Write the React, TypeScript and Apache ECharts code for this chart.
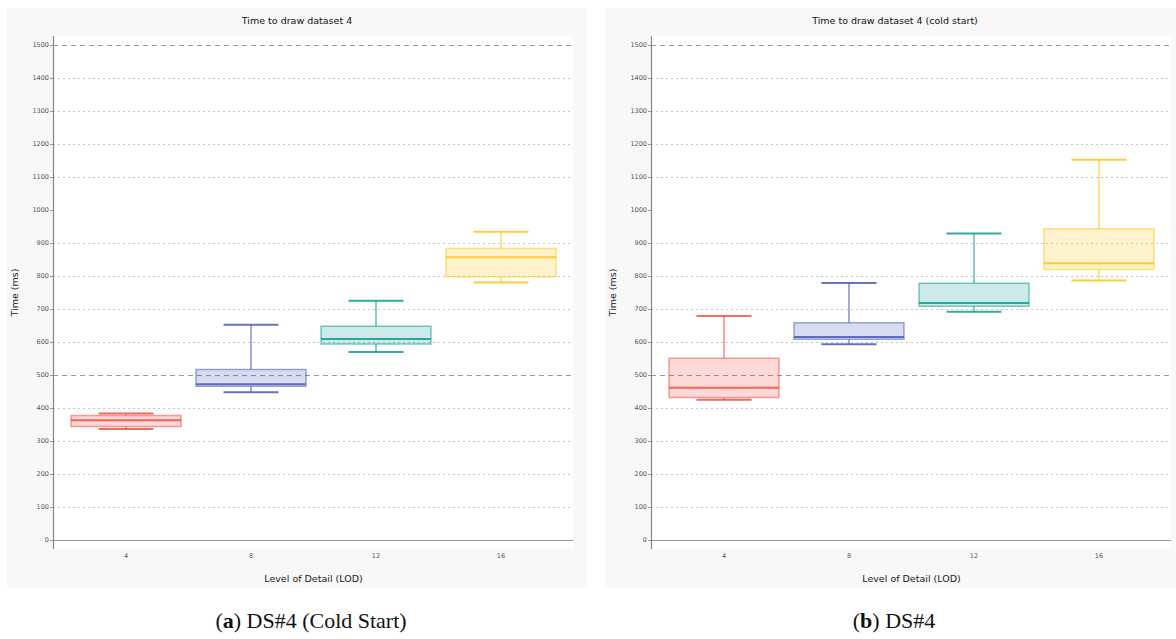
import React, { useEffect, useRef } from "react";
import * as echarts from "echarts";

// ---- data ----
const categories = ["4", "8", "12", "16"];
// [min, q1, median, q3, max]
const coldStartBoxes = [
  [336, 344, 363, 377, 383],
  [448, 466, 472, 517, 652],
  [570, 594, 609, 648, 725],
  [780, 798, 857, 883, 934],
];
const warmBoxes = [
  [425, 432, 461, 551, 679],
  [593, 608, 615, 658, 779],
  [692, 708, 718, 778, 929],
  [786, 820, 839, 943, 1152],
];
const boxColors = ["#F44336", "#3F51B5", "#009688", "#FFC107"];
const leftTitle = "Time to draw dataset 4";
const rightTitle = "Time to draw dataset 4 (cold start)";
const xName = "Level of Detail (LOD)";
const yName = "Time (ms)";
const yMin = 0;
const yMax = 1500;
const minorStep = 100;
const majorStep = 500;

function hexA(hex: string, a: number) {
  const n = parseInt(hex.slice(1), 16);
  return `rgba(${(n >> 16) & 255},${(n >> 8) & 255},${n & 255},${a})`;
}

const renderBox = (params: any, api: any) => {
  const idx = api.value(0);
  const mn = api.value(1), q1 = api.value(2), md = api.value(3), q3 = api.value(4), mx = api.value(5);
  const band = api.size([1, 0])[0];
  const bw = band * 0.88;
  const cw = bw / 2;
  const pMx = api.coord([idx, mx]);
  const pQ3 = api.coord([idx, q3]);
  const pMd = api.coord([idx, md]);
  const pQ1 = api.coord([idx, q1]);
  const pMn = api.coord([idx, mn]);
  const cx = pMx[0];
  const c = boxColors[params.dataIndex % boxColors.length];
  const strong = hexA(c, 0.8);
  return {
    type: "group",
    children: [
      {
        type: "rect",
        shape: { x: cx - bw / 2, y: pQ3[1], width: bw, height: pQ1[1] - pQ3[1] },
        style: { fill: hexA(c, 0.2), stroke: hexA(c, 0.5), lineWidth: 1.5 },
      },
      { type: "line", shape: { x1: cx, y1: pMx[1], x2: cx, y2: pQ3[1] }, style: { stroke: strong, lineWidth: 1.2 } },
      { type: "line", shape: { x1: cx, y1: pQ1[1], x2: cx, y2: pMn[1] }, style: { stroke: strong, lineWidth: 1.2 } },
      { type: "line", shape: { x1: cx - cw / 2, y1: pMx[1], x2: cx + cw / 2, y2: pMx[1] }, style: { stroke: strong, lineWidth: 2 } },
      { type: "line", shape: { x1: cx - cw / 2, y1: pMn[1], x2: cx + cw / 2, y2: pMn[1] }, style: { stroke: strong, lineWidth: 2 } },
      { type: "line", shape: { x1: cx - bw / 2, y1: pMd[1], x2: cx + bw / 2, y2: pMd[1] }, style: { stroke: strong, lineWidth: 2 } },
    ],
  };
};

const panels = [
  { px: 7, axisX: 53, capX: 311, title: leftTitle, data: coldStartBoxes, caption: "a", captionRest: ") DS#4 (Cold Start)" },
  { px: 605, axisX: 651, capX: 894, title: rightTitle, data: warmBoxes, caption: "b", captionRest: ") DS#4" },
];

const PLOT_TOP = 45;
const PLOT_H = 495;
const PLOT_W = 520;

export default function App() {
  const ref = useRef<HTMLDivElement>(null);
  useEffect(() => {
    if (!ref.current) return;
    const chart = echarts.init(ref.current, undefined, { renderer: "svg", width: 1176, height: 639 });
    const grid: any[] = [];
    const xAxis: any[] = [];
    const yAxis: any[] = [];
    const series: any[] = [];
    const graphic: any[] = [];
    const labelFont = { fontFamily: "DejaVu Sans", fontSize: 6.5, color: "#555" };
    const nameFont = { fontFamily: "DejaVu Sans", fontSize: 9.5, color: "#222" };

    panels.forEach((p) => {
      const gA = grid.length;
      grid.push({ left: p.axisX, top: PLOT_TOP, width: PLOT_W, height: PLOT_H, containLabel: false });
      const gB = grid.length;
      grid.push({ left: p.axisX + 10.5, top: PLOT_TOP, width: 500, height: PLOT_H, containLabel: false });

      xAxis.push({
        gridIndex: gA, type: "value", min: 0, max: 1,
        axisLine: { show: true, lineStyle: { color: "#999", width: 1 } },
        axisTick: { show: false }, axisLabel: { show: false }, splitLine: { show: false },
      });
      const xb = xAxis.length;
      xAxis.push({
        gridIndex: gB, type: "category", data: categories, boundaryGap: true,
        axisLine: { show: false }, axisTick: { show: false },
        axisLabel: { ...labelFont, margin: 12 },
        name: xName, nameLocation: "middle", nameGap: 33, nameTextStyle: nameFont,
        splitLine: { show: false },
      });

      yAxis.push({
        gridIndex: gA, type: "value", min: yMin, max: yMax, interval: minorStep, position: "left",
        axisLine: { show: false },
        axisTick: { show: true, length: 3, lineStyle: { color: "#999" } },
        axisLabel: { ...labelFont, margin: 4, formatter: (v: number) => String(v) },
        splitLine: {
          show: true,
          lineStyle: { color: ["rgba(0,0,0,0)", "#c4c4c4", "#c4c4c4", "#c4c4c4", "#c4c4c4"], type: [2, 3], width: 1 },
        },
        name: yName, nameLocation: "middle", nameGap: 34, nameTextStyle: nameFont,
      });
      yAxis.push({
        gridIndex: gA, type: "value", min: yMin, max: yMax, interval: majorStep, position: "left",
        axisLine: { show: false }, axisTick: { show: false }, axisLabel: { show: false },
        splitLine: { show: true, lineStyle: { color: ["rgba(0,0,0,0)", "#999"], type: [5, 4], width: 1 } },
      });
      const yb = yAxis.length;
      yAxis.push({ gridIndex: gB, type: "value", min: yMin, max: yMax, show: false, splitLine: { show: false } });

      series.push({
        type: "custom",
        xAxisIndex: xb,
        yAxisIndex: yb,
        renderItem: renderBox,
        encode: { x: 0, y: [1, 2, 3, 4, 5] },
        data: p.data.map((d, i) => [i, ...d]),
        z: 3,
      });

      graphic.push({ type: "rect", shape: { x: p.px, y: 8, width: 580, height: 580 }, style: { fill: "#f8f8f8" }, z: -20 });
      graphic.push({ type: "rect", shape: { x: p.axisX, y: 36, width: PLOT_W, height: 513 }, style: { fill: "#ffffff" }, z: -19 });
      graphic.push({
        type: "line", shape: { x1: p.axisX + 0.5, y1: 36, x2: p.axisX + 0.5, y2: 549 },
        style: { stroke: "#888", lineWidth: 1.2 }, z: 10,
      });
      graphic.push({
        type: "text", x: p.px + 290, y: 20,
        style: { text: p.title, fontFamily: "DejaVu Sans", fontSize: 9.5, fill: "#111", textAlign: "center", textVerticalAlign: "middle" },
        z: 10,
      });
      graphic.push({
        type: "text", x: p.capX, y: 620,
        style: {
          text: "({b|" + p.caption + "}" + p.captionRest,
          fontFamily: "Liberation Serif", fontSize: 22, fill: "#111",
          textAlign: "center", textVerticalAlign: "middle",
          rich: { b: { fontFamily: "Liberation Serif", fontSize: 22, fontWeight: "bold", fill: "#111" } },
        },
        z: 10,
      });
    });

    chart.setOption({
      animation: false,
      backgroundColor: "#ffffff",
      grid, xAxis, yAxis, series, graphic,
    });
    return () => chart.dispose();
  }, []);
  return <div ref={ref} style={{ position: "absolute", left: 0, top: 0, width: 1176, height: 639 }} />;
}
